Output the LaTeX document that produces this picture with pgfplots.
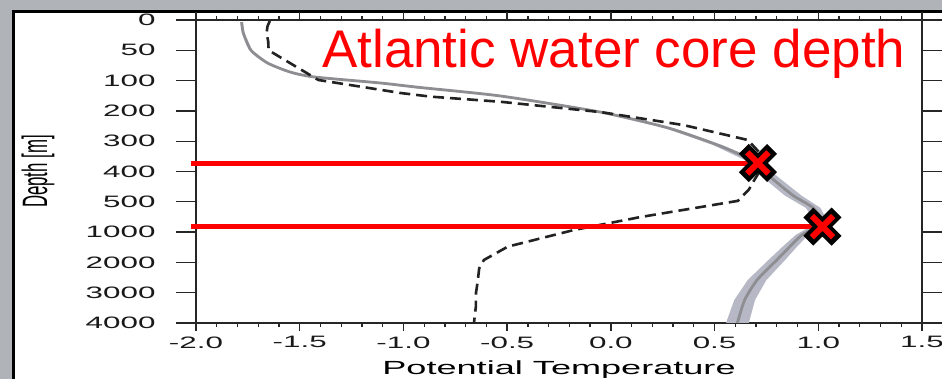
\documentclass[border=0pt]{standalone}
\usepackage{fontspec}
\setmainfont{Liberation Sans}
\newfontfamily\tickfont[FakeStretch=1.9]{Liberation Sans}
\usepackage{pgfplots}
\pgfplotsset{compat=1.18}
\definecolor{bggray}{HTML}{B0B3B8}
\definecolor{bandc}{HTML}{B6B9C5}
\definecolor{meanc}{HTML}{8E8E92}
\definecolor{dashc}{HTML}{222222}
\begin{document}
\begin{tikzpicture}[x=1pt,y=1pt]
\useasboundingbox (0,0) rectangle (942,379);
\fill[bggray] (0,0) rectangle (942,379);
\fill[white] (12,0) rectangle (942,368);
\draw[line width=3pt] (13.5,0) -- (13.5,367.5) -- (942,367.5);
\begin{axis}[
  at={(196pt,56pt)}, anchor=south west,
  scale only axis, width=726pt, height=303pt,
  xmin=-2, xmax=1.5, ymin=0, ymax=10, y dir=reverse,
  clip=false,
  axis line style={line width=1.5pt, black!85},
  tick style={line width=1.3pt, black!85},
  tick align=outside,
  major tick length=20pt,
  minor tick length=4pt,
  every major x tick/.append style={/pgfplots/major tick length=8pt},
  xtick={-2,-1.5,-1,-0.5,0,0.5,1,1.5},
  xticklabels={-2.0,-1.5,-1.0,-0.5,0.0,0.5,1.0,1.5},
  minor x tick num=4,
  ytick={0,1,2,3,4,5,6,7,8,9,10},
  yticklabels={0,50,100,200,300,400,500,1000,2000,3000,4000},
  ticklabel style={font=\tickfont\fontsize{16.5}{16.5}\selectfont, text=black!90},
  yticklabel style={anchor=east, xshift=-17pt},
  xticklabel style={anchor=north, yshift=10pt},
]
% uncertainty band of the mean profile
\addplot[draw=none, fill=bandc] coordinates {
(-1.786,0.07) (-1.778,0.43) (-1.741,1.0) (-1.661,1.42) (-1.551,1.72) (-1.436,1.88)
(-1.118,2.08) (-0.94,2.25) (-0.542,2.51) (-0.065,3.04) (0.257,3.56) (0.494,4.13)
(0.645,4.62) (0.748,5.28) (0.84,5.8) (0.94,6.2) (0.99,6.7) (0.89,7.1) (0.825,7.5)
(0.76,7.92) (0.66,8.58) (0.595,9.24) (0.555,10.0)
(0.665,10.0) (0.695,9.24) (0.75,8.58) (0.84,7.92) (0.895,7.5) (0.95,7.1) (1.05,6.7)
(1.01,6.2) (0.92,5.8) (0.824,5.28) (0.705,4.62) (0.538,4.13) (0.293,3.56) (-0.035,3.04)
(-0.518,2.51) (-0.92,2.25) (-1.102,2.08) (-1.424,1.88) (-1.539,1.72) (-1.649,1.42)
(-1.729,1.0) (-1.766,0.43) (-1.774,0.07)
} --cycle;
% mean profile
\addplot[meanc, line width=2.8pt, smooth, tension=0.4] coordinates {
(-1.78,0.07) (-1.772,0.43) (-1.735,1.0) (-1.655,1.42) (-1.545,1.72) (-1.43,1.88)
(-1.11,2.08) (-0.93,2.22) (-0.53,2.51) (-0.05,3.04) (0.275,3.56) (0.516,4.13)
(0.675,4.62) (0.786,5.28) (0.88,5.8) (0.975,6.2) (1.02,6.7) (0.92,7.1) (0.86,7.5)
(0.80,7.92) (0.705,8.58) (0.645,9.24) (0.61,10.0)
};
% single profile (dashed)
\addplot[dashc, line width=2.6pt, dash pattern=on 11pt off 6pt] coordinates {
(-1.644,0.03) (-1.655,0.2) (-1.66,0.43) (-1.652,0.7) (-1.65,1.0) (-1.41,1.98)
(-1.013,2.41) (-0.868,2.53) (-0.53,2.7) (-0.048,3.04) (0.352,3.47) (0.66,3.96)
(0.72,4.4) (0.735,4.8) (0.69,5.3) (0.665,5.6) (0.612,5.97) (0.145,6.5) (-0.178,6.93)
(-0.497,7.48) (-0.612,7.92) (-0.635,8.2) (-0.641,8.58) (-0.65,9.0) (-0.651,9.47) (-0.66,10.0)
};
% core depth lines
\addplot[red, line width=5pt] coordinates {(-2.025,4.72) (0.709,4.72)};
\addplot[red, line width=5pt] coordinates {(-2.025,6.82) (1.02,6.82)};
% markers
\addplot[only marks, mark=x, mark size=20pt, mark options={line width=14pt, black}] coordinates {(0.709,4.72) (1.02,6.82)};
\addplot[only marks, mark=x, mark size=15pt, mark options={line width=6pt, red}] coordinates {(0.709,4.72) (1.02,6.82)};
\end{axis}
\node[anchor=base, inner sep=0pt] at (559,4) {\tickfont\fontsize{19}{19}\selectfont Potential Temperature};
\node[rotate=90, anchor=base, inner sep=0pt] at (47,207.5) {\scalebox{1}[2.1]{\fontsize{16.8}{17}\selectfont Depth [m]}};
\node[anchor=base west, inner sep=0pt, text=red] at (322,311) {\fontsize{53}{53}\selectfont Atlantic water core depth};
\end{tikzpicture}
\end{document}
